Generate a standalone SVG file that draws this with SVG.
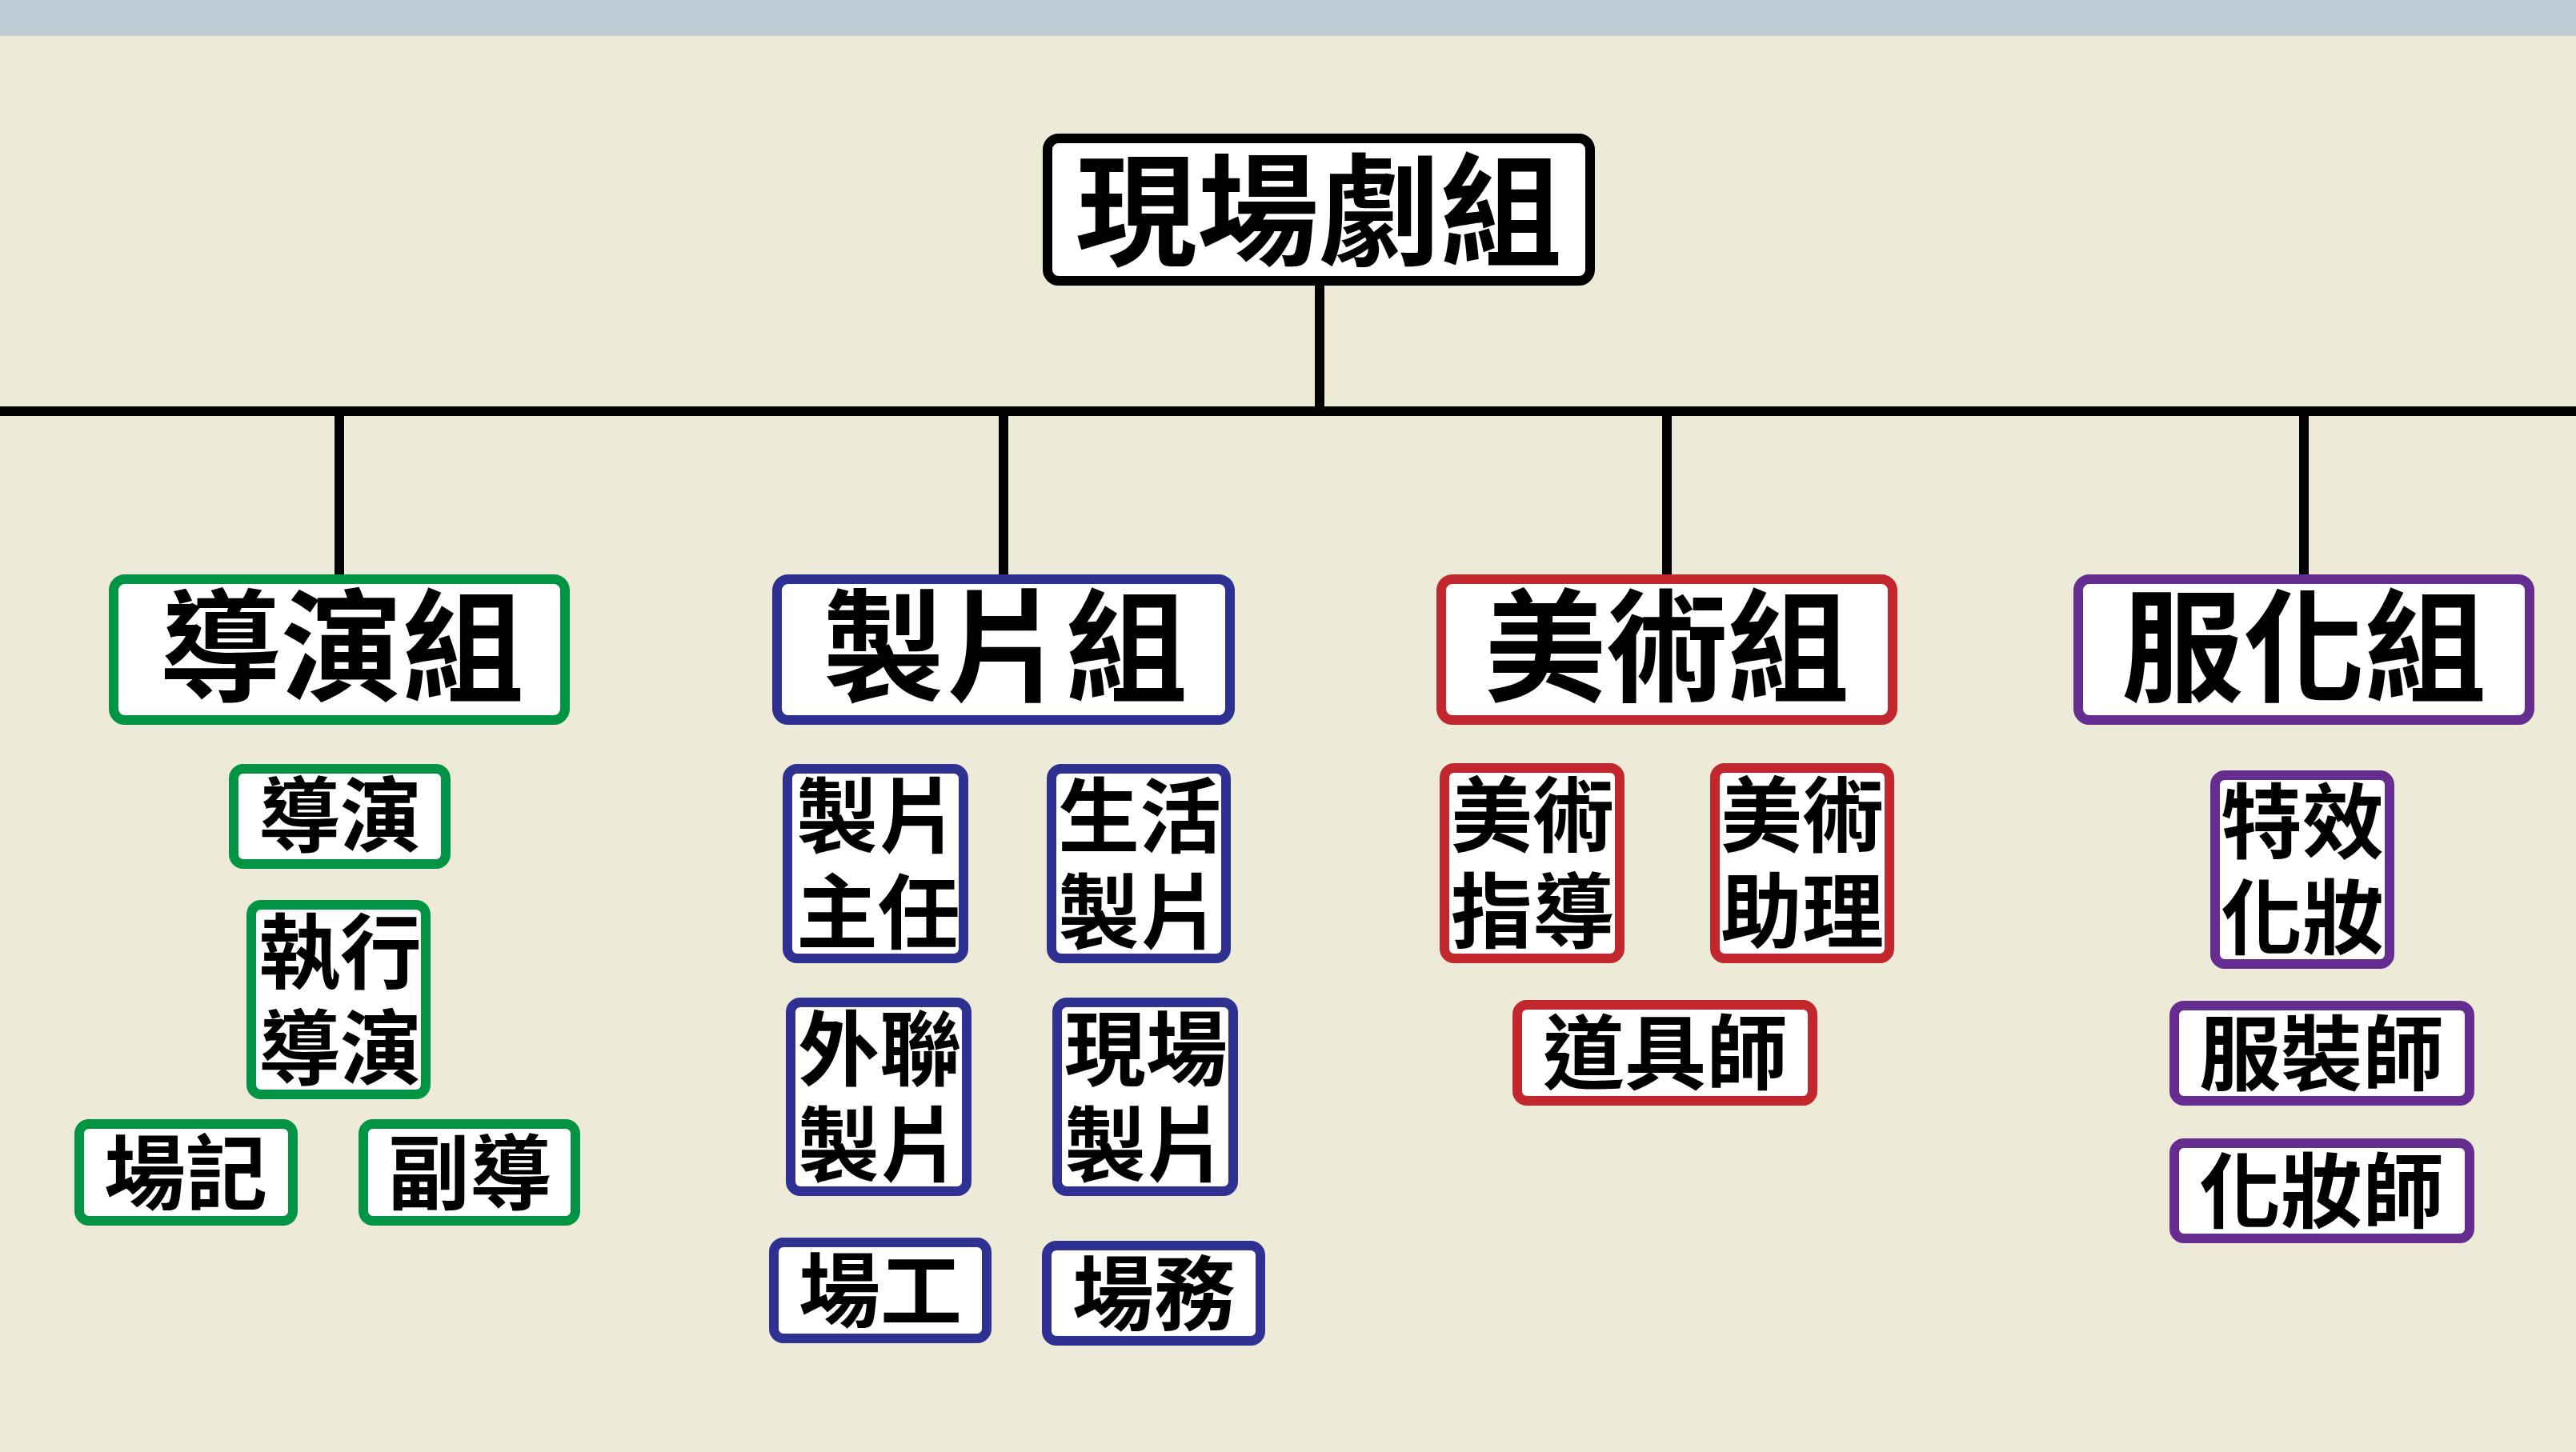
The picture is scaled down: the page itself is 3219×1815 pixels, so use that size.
<svg xmlns="http://www.w3.org/2000/svg" width="3219" height="1815" viewBox="0 0 3219 1815">
<style>
.bg{fill:#EDEAD7}
.band{fill:#BDCBD4}
.box{fill:#FFFFFF;stroke-width:12}
.root{stroke:#000000}
.g{stroke:#009444}
.b{stroke:#2E3192}
.r{stroke:#C1272D}
.p{stroke:#662D91}
.ln{stroke:#000000;stroke-width:12;fill:none}
text{font-family:"Noto Sans CJK TC","Noto Sans CJK SC",sans-serif;font-weight:700;fill:#000000;text-anchor:middle}
.big{font-size:152px}
.sm{font-size:102px}
</style>
<rect class="bg" x="0" y="0" width="3219" height="1815"/>
<rect class="band" x="0" y="0" width="3219" height="45"/>
<g id="connectors">
<line class="ln" x1="1649" y1="357" x2="1649" y2="514"/>
<line class="ln" x1="0" y1="514" x2="3219" y2="514"/>
<line class="ln" x1="424" y1="514" x2="424" y2="718"/>
<line class="ln" x1="1254" y1="514" x2="1254" y2="718"/>
<line class="ln" x1="2083" y1="514" x2="2083" y2="718"/>
<line class="ln" x1="2879" y1="514" x2="2879" y2="718"/>
</g>
<g id="root">
<rect class="box root" x="1309" y="173" width="678" height="178" rx="14"/>
<text class="big" x="1648" y="320">現場劇組</text>
</g>
<g id="group-directing">
<rect class="box g" x="142" y="724" width="564" height="176" rx="14"/>
<text class="big" x="427" y="865">導演組</text>
</g>
<g id="group-production">
<rect class="box b" x="971" y="724" width="566" height="176" rx="14"/>
<text class="big" x="1256" y="865">製片組</text>
</g>
<g id="group-art">
<rect class="box r" x="1801" y="724" width="564" height="176" rx="14"/>
<text class="big" x="2083" y="865">美術組</text>
</g>
<g id="group-costume">
<rect class="box p" x="2597" y="724" width="564" height="176" rx="14"/>
<text class="big" x="2879" y="865">服化組</text>
</g>
<g id="director">
<rect class="box g" x="292" y="961" width="265" height="119" rx="12"/>
<text class="sm" x="425" y="1057">導演</text>
</g>
<g id="exec-director">
<rect class="box g" x="314" y="1131" width="218" height="237" rx="12"/>
<text class="sm"><tspan x="425" y="1228">執行</tspan><tspan x="425" y="1348">導演</tspan></text>
</g>
<g id="script-supervisor">
<rect class="box g" x="99" y="1405" width="267" height="121" rx="12"/>
<text class="sm" x="232" y="1504">場記</text>
</g>
<g id="assistant-director">
<rect class="box g" x="454" y="1405" width="265" height="121" rx="12"/>
<text class="sm" x="587" y="1504">副導</text>
</g>
<g id="production-manager">
<rect class="box b" x="984" y="961" width="220" height="237" rx="12"/>
<text class="sm"><tspan x="1097" y="1058">製片</tspan><tspan x="1097" y="1178">主任</tspan></text>
</g>
<g id="living-producer">
<rect class="box b" x="1314" y="961" width="218" height="237" rx="12"/>
<text class="sm"><tspan x="1424" y="1058">生活</tspan><tspan x="1424" y="1178">製片</tspan></text>
</g>
<g id="external-producer">
<rect class="box b" x="988" y="1253" width="220" height="236" rx="12"/>
<text class="sm"><tspan x="1099" y="1349">外聯</tspan><tspan x="1099" y="1469">製片</tspan></text>
</g>
<g id="set-producer">
<rect class="box b" x="1321" y="1253" width="220" height="236" rx="12"/>
<text class="sm"><tspan x="1432" y="1349">現場</tspan><tspan x="1432" y="1469">製片</tspan></text>
</g>
<g id="grip">
<rect class="box b" x="967" y="1553" width="266" height="120" rx="12"/>
<text class="sm" x="1100" y="1651">場工</text>
</g>
<g id="set-affairs">
<rect class="box b" x="1308" y="1557" width="267" height="119" rx="12"/>
<text class="sm" x="1442" y="1655">場務</text>
</g>
<g id="art-director">
<rect class="box r" x="1805" y="960" width="219" height="238" rx="12"/>
<text class="sm"><tspan x="1915" y="1057">美術</tspan><tspan x="1915" y="1177">指導</tspan></text>
</g>
<g id="art-assistant">
<rect class="box r" x="2143" y="960" width="218" height="238" rx="12"/>
<text class="sm"><tspan x="2252" y="1057">美術</tspan><tspan x="2252" y="1177">助理</tspan></text>
</g>
<g id="prop-master">
<rect class="box r" x="1896" y="1256" width="369" height="120" rx="12"/>
<text class="sm" x="2081" y="1354">道具師</text>
</g>
<g id="sfx-makeup">
<rect class="box p" x="2768" y="969" width="218" height="236" rx="12"/>
<text class="sm"><tspan x="2877" y="1065">特效</tspan><tspan x="2877" y="1185">化妝</tspan></text>
</g>
<g id="costume-designer">
<rect class="box p" x="2717" y="1257" width="369" height="119" rx="12"/>
<text class="sm" x="2901" y="1355">服裝師</text>
</g>
<g id="makeup-artist">
<rect class="box p" x="2717" y="1429" width="369" height="119" rx="12"/>
<text class="sm" x="2901" y="1527">化妝師</text>
</g>
</svg>
